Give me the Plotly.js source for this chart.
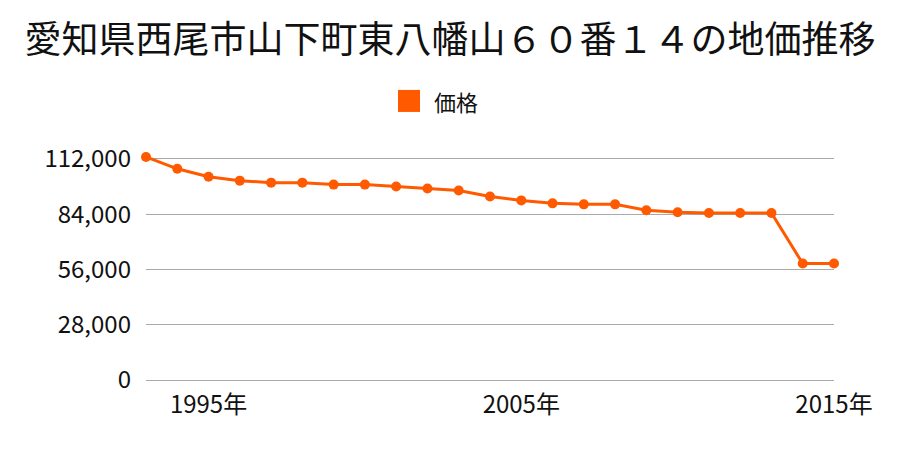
<!DOCTYPE html>
<html><head><meta charset="utf-8">
<script src="https://cdn.plot.ly/plotly-3.0.1.min.js"></script>
<style>html,body{margin:0;padding:0;background:#fff}#chart{width:900px;height:450px}</style>
</head><body><div id="chart"></div>
<script>
const years = [1993,1994,1995,1996,1997,1998,1999,2000,2001,2002,2003,2004,2005,2006,2007,2008,2009,2010,2011,2012,2013,2014,2015];
const prices = [113000,107000,103000,101000,100000,100000,99000,99000,98000,97000,96000,93000,91000,89500,89000,89000,86000,85000,84600,84600,84600,59000,59000];
const seriesName = '価格';
const titleText = '愛知県西尾市山下町東八幡山６０番１４の地価推移';
const yTicks = [0,28000,56000,84000,112000];
const yTickText = ['0','28,000','56,000','84,000','112,000'];
const xTicks = [1995,2005,2015];
const xTickText = ['1995年','2005年','2015年'];

const color = '#ff5a00';
const font = '"Noto Sans CJK JP", "Noto Sans", sans-serif';
const yMax = 114000;
const plotH = 221 * yMax / 112000;
const topM = 380 - plotH;

Plotly.newPlot('chart', [{
  x: years, y: prices, type: 'scatter', mode: 'lines+markers', name: seriesName,
  line: {color: color, width: 3}, marker: {color: color, size: 10},
  cliponaxis: false, showlegend: false
}], {
  width: 900, height: 450,
  margin: {l: 146, r: 66, t: topM, b: 70},
  paper_bgcolor: '#fff', plot_bgcolor: '#fff',
  font: {family: font, color: '#111'},
  title: {text: titleText, font: {size: 37, family: font, color: '#111'}, x: 0.5, xanchor: 'center', y: 0.91, yanchor: 'middle'},
  showlegend: false,
  xaxis: {range: [1993, 2015], tickvals: xTicks, ticktext: xTickText, showgrid: false, zeroline: false,
          showline: false, ticks: '', tickfont: {size: 24, family: font, color: '#111'}, ticklabelstandoff: 8},
  yaxis: {range: [0, yMax], tickvals: yTicks, ticktext: yTickText, showgrid: true, gridcolor: '#aaaaaa', gridwidth: 1,
          zeroline: true, zerolinecolor: '#aaaaaa', zerolinewidth: 1, showline: false, ticks: '',
          tickfont: {size: 24, family: font, color: '#111'}, ticklabelstandoff: 14},
  shapes: [{type: 'rect', xref: 'paper', yref: 'paper', x0: (398-146)/688, x1: (420-146)/688, y0: (380-112)/plotH, y1: (380-90)/plotH,
            fillcolor: color, line: {width: 0}}],
  annotations: [{text: seriesName, xref: 'paper', yref: 'paper', x: (432-146)/688, y: (380-101)/plotH, xanchor: 'left', yanchor: 'middle',
                 showarrow: false, font: {size: 22, family: font, color: '#111'}}]
}, {displayModeBar: false, staticPlot: true});
</script></body></html>
